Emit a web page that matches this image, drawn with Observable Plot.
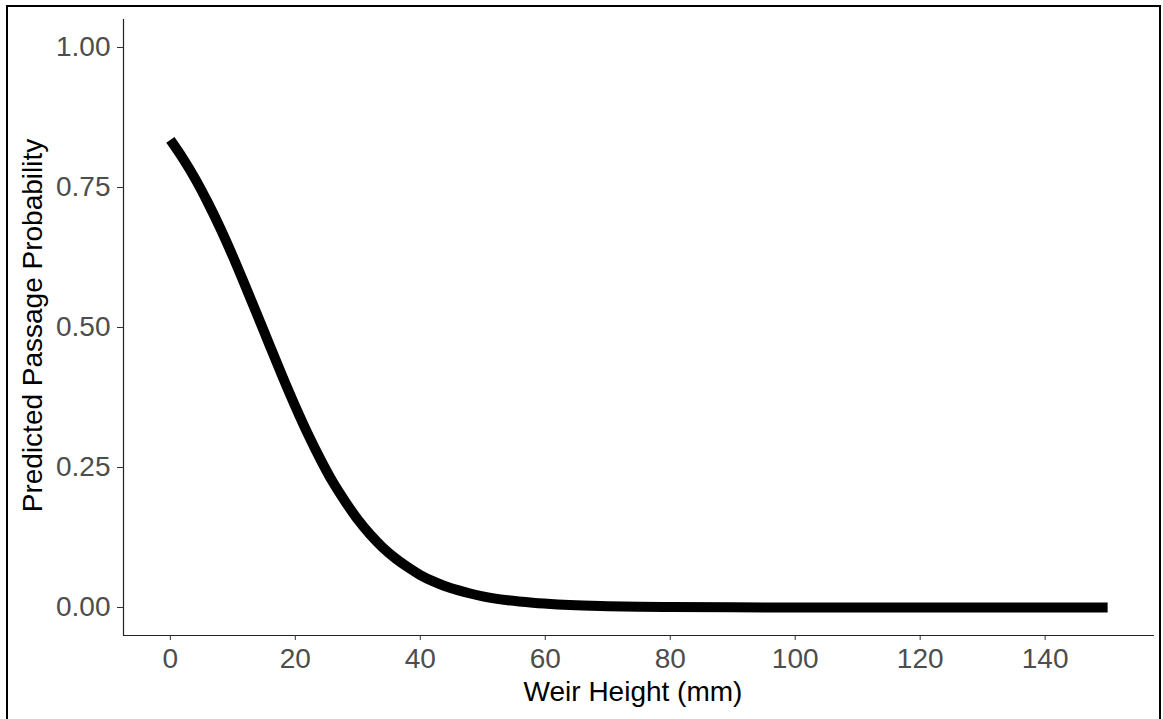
<!DOCTYPE html>
<html>
<head>
<meta charset="utf-8">
<script src="https://cdn.jsdelivr.net/npm/d3@7"></script>
<script src="https://cdn.jsdelivr.net/npm/@observablehq/plot@0.6"></script>
<style>
  html, body { margin: 0; padding: 0; background: #fff; overflow: hidden; }
  #wrap { position: relative; width: 1163px; height: 719px; }
  #frame { position: absolute; left: 6px; top: 5px; width: 1155px; height: 760px;
           border: 2px solid #000; box-sizing: border-box; pointer-events: none; }
</style>
</head>
<body>
<div id="wrap"><div id="chart"></div><div id="frame"></div></div>
<script>
// Values
const weirHeight = [0, 2, 4, 6, 8, 10, 12, 14, 16, 18, 20, 22, 24, 26, 28, 30, 32, 34, 36, 38, 40,
  42, 44, 46, 48, 50, 54, 58, 62, 66, 70, 75, 80, 90, 100, 110, 120, 130, 140, 150];
const passageProb = [0.835, 0.802, 0.765, 0.723, 0.677, 0.627, 0.574, 0.520, 0.465, 0.411, 0.359,
  0.310, 0.265, 0.224, 0.189, 0.157, 0.130, 0.107, 0.088, 0.072, 0.058,
  0.047, 0.038, 0.031, 0.025, 0.020, 0.013, 0.0085, 0.0055, 0.0035, 0.0023, 0.0013, 0.0008,
  0.00025, 0.0001, 0.00003, 0.00001, 0, 0, 0];
const xTicks = [0, 20, 40, 60, 80, 100, 120, 140];
const yTicks = [0, 0.25, 0.5, 0.75, 1.0];
const yTickLabels = ["0.00", "0.25", "0.50", "0.75", "1.00"];
const xTitle = "Weir Height (mm)";
const yTitle = "Predicted Passage Probability";

const xDomain = [-7.5, 157.5];
const yDomain = [-0.05, 1.05];

const data = weirHeight.map((x, i) => ({x, y: passageProb[i]}));

const chart = Plot.plot({
  width: 1163,
  height: 719,
  marginTop: 19,
  marginBottom: 84,
  marginLeft: 123,
  marginRight: 9,
  style: {fontFamily: "'Liberation Sans', Arial, sans-serif", background: "transparent"},
  x: {domain: xDomain},
  y: {domain: yDomain},
  marks: [
    Plot.ruleX([xDomain[0]], {stroke: "#222", strokeWidth: 1.2}),
    Plot.ruleY([yDomain[0]], {stroke: "#222", strokeWidth: 1.2}),
    Plot.axisX({ticks: xTicks, tickSize: 5, tickPadding: 8, fontSize: 28, fill: "#4D4D4D",
      stroke: "#333", label: null}),
    Plot.axisY({ticks: yTicks, tickFormat: (d) => yTickLabels[yTicks.indexOf(d)], tickSize: 6,
      tickPadding: 7, fontSize: 28, fill: "#4D4D4D", stroke: "#333", label: null}),
    Plot.line(data, {x: "x", y: "y", stroke: "#000", strokeWidth: 10, strokeLinecap: "butt",
      strokeLinejoin: "round", curve: "monotone-x"}),
    Plot.text([xTitle], {frameAnchor: "bottom", text: (d) => d, dy: 57, dx: -6, fontSize: 28,
      fill: "#000", textAnchor: "middle", lineAnchor: "middle"}),
    Plot.text([yTitle], {frameAnchor: "left", text: (d) => d, dx: -90, dy: -2, rotate: -90,
      fontSize: 28, fill: "#000", textAnchor: "middle", lineAnchor: "middle"})
  ]
});
document.getElementById("chart").appendChild(chart);
</script>
</body>
</html>
